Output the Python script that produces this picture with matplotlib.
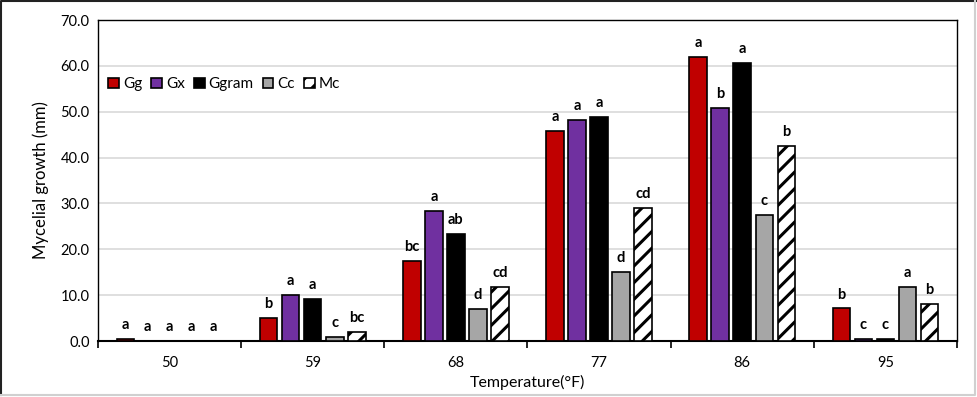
import numpy as np
import matplotlib
matplotlib.use('Agg')
import matplotlib.pyplot as plt
from matplotlib.lines import Line2D

plt.rcParams['font.family'] = ['Lato', 'DejaVu Sans']
plt.rcParams['hatch.linewidth'] = 2.2

# ## Data
temps = ['50', '59', '68', '77', '86', '95']
series = ['Gg', 'Gx', 'Ggram', 'Cc', 'Mc']

gg = [0.4, 5.0, 17.4, 45.9, 62.0, 7.1]
gx = [0.0, 10.0, 28.3, 48.1, 50.8, 0.4]
ggram = [0.0, 9.2, 23.4, 48.9, 60.6, 0.4]
cc = [0.0, 0.8, 6.9, 15.0, 27.5, 11.7]
mc = [0.0, 2.0, 11.8, 29.0, 42.6, 8.0]

gg_let = ['a', 'b', 'bc', 'a', 'a', 'b']
gx_let = ['a', 'a', 'a', 'a', 'b', 'c']
ggram_let = ['a', 'a', 'ab', 'a', 'a', 'c']
cc_let = ['a', 'c', 'd', 'd', 'c', 'a']
mc_let = ['a', 'bc', 'cd', 'cd', 'b', 'b']

values = [gg, gx, ggram, cc, mc]
letters = [gg_let, gx_let, ggram_let, cc_let, mc_let]
colors = ['#c00000', '#7030a0', '#000000', '#a6a6a6', '#ffffff']
hatches = [None, None, None, None, '//']

# ## Figure
fig = plt.figure(figsize=(9.77, 3.97), dpi=100)
ax = fig.add_axes([0.1003, 0.141, 0.8792, 0.8086])

x = np.arange(len(temps))
width = 0.122
step = 0.154
for i, (vals, lets) in enumerate(zip(values, letters)):
    pos = x + (i - 2) * step
    bars = ax.bar(pos, vals, width, color=colors[i], edgecolor='black',
                  linewidth=1.2, hatch=hatches[i], label=series[i], zorder=3)
    for b, lab in zip(bars, lets):
        ax.annotate(lab, (b.get_x() + b.get_width() / 2, b.get_height()),
                    xytext=(0, 5), textcoords='offset points',
                    ha='center', va='bottom', fontsize=10.5, fontweight='bold')

ax.set_xlim(-0.5, len(temps) - 0.5)
ax.set_ylim(0, 70)
ax.set_yticks(np.arange(0, 71, 10))
ax.set_yticklabels([f'{v:.1f}' for v in np.arange(0, 71, 10)], fontsize=10.5)
ax.set_xticks(x)
ax.set_xticklabels(temps, fontsize=10.5)
ax.set_xticks(np.arange(-0.5, len(temps), 1), minor=True)
ax.tick_params(axis='x', which='major', length=0, pad=11)
ax.tick_params(axis='x', which='minor', length=5, width=1.2, direction='out')
ax.tick_params(axis='y', length=0, pad=6)
ax.yaxis.grid(True, color='#d9d9d9', linewidth=1.2, zorder=0)
ax.set_axisbelow(True)

for s in ['top', 'right', 'left']:
    ax.spines[s].set_linewidth(1.0)
ax.spines['bottom'].set_linewidth(1.5)

ax.set_ylabel('Mycelial growth (mm)', fontsize=12, labelpad=8)
ax.set_xlabel('Temperature(°F)', fontsize=11.5, labelpad=3)

ax.legend(loc='upper left', bbox_to_anchor=(0.005, 0.84), ncol=5, frameon=False,
          fontsize=11, handlelength=0.7, handleheight=0.7, handletextpad=0.25,
          columnspacing=0.6, borderaxespad=0)

# outer frame: dark top/left, light grey bottom/right
fig.lines.append(Line2D([0.001, 0.001, 0.999], [0.004, 0.997, 0.997],
                        transform=fig.transFigure, color='#222222', linewidth=1.5))
fig.lines.append(Line2D([0.001, 0.998, 0.998], [0.004, 0.004, 0.997],
                        transform=fig.transFigure, color='#d0d0d0', linewidth=1.5))

fig.savefig('out.png', dpi=100)
